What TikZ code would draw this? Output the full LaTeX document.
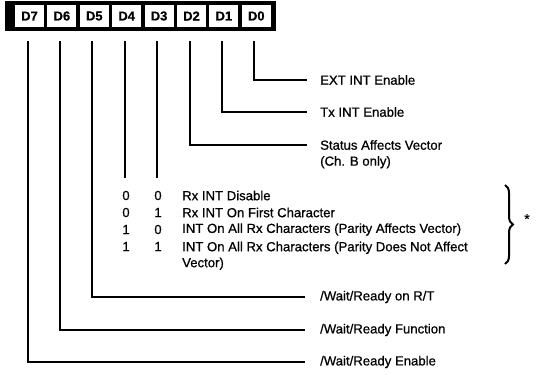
\documentclass[tikz,border=0pt]{standalone}
\usepackage{fontspec}
\setmainfont{Liberation Sans}[FakeBold=0.7]
\newfontfamily\labelfont{Liberation Sans}[FakeBold=0.7]
\usetikzlibrary{decorations.pathreplacing}
\begin{document}
\begin{tikzpicture}[x=1bp,y=-1bp,
  cell/.style={fill=white,minimum width=29bp,minimum height=22bp,inner sep=0pt,font=\fontsize{13}{14}\selectfont\bfseries},
  wire/.style={line width=2bp,line cap=butt},
  lbl/.style={anchor=west,inner sep=0pt,font=\labelfont\fontsize{13.2}{16}\selectfont\addfontfeature{FakeBold=0.7}},
  lbl2/.style={anchor=north west,inner sep=0pt,align=left,font=\labelfont\fontsize{13.2}{16}\selectfont\addfontfeature{FakeBold=0.7}},
  num/.style={anchor=center,inner sep=0pt,font=\labelfont\fontsize{13.2}{16}\selectfont\addfontfeature{FakeBold=0.7}}]
\useasboundingbox (0,0) rectangle (539,374);
% register frame
\node[fill=black,minimum width=270bp,minimum height=30bp,inner sep=0pt] (reg) at (140.5,16) {};
\foreach \n [count=\i from 0] in {7,6,5,4,3,2,1,0}
  \node[cell] (D\n) at (29.5+32.4*\i,16) {D\n};
% end points
\coordinate (e0) at (307,80);
\coordinate (e1) at (307,112);
\coordinate (e2) at (307,145);
\coordinate (e3) at (157.1,178);
\coordinate (e4) at (124.7,178);
\coordinate (e5) at (305,297);
\coordinate (e6) at (305,330);
\coordinate (e7) at (305,362);
% wires
\foreach \n in {0,1,2,5,6,7}
  \draw[wire] ([xshift=-2bp,yshift=-14bp]D\n.south) |- (e\n);
\draw[wire] ([yshift=-14bp]e3 |- D3.south) -- (e3);
\draw[wire] ([yshift=-14bp]e4 |- D4.south) -- (e4);
% labels
\node[lbl] (t0) at (320,80) {EXT INT Enable};
\node[lbl] (t1) at (320,112) {Tx INT Enable};
\node[lbl2] (t2) at (320,140) {Status Affects Vector\\(Ch. B only)};
\node[lbl] (t5) at (320,297) {/Wait/Ready on R/T};
\node[lbl] (t6) at (320,330) {/Wait/Ready Function};
\node[lbl] (t7) at (320,362) {/Wait/Ready Enable};
% table
\node[num] (a1) at (126,195.5) {0}; \node[num] (b1) at (158,195.5) {0};
\node[num] (a2) at (126,212.5) {0}; \node[num] (b2) at (158,212.5) {1};
\node[num] (a3) at (126,229.5) {1}; \node[num] (b3) at (158,229.5) {0};
\node[num] (a4) at (126,246.5) {1}; \node[num] (b4) at (158,246.5) {1};
\node[lbl] (r1) at (182,195.5) {Rx INT Disable};
\node[lbl] (r2) at (182,212.5) {Rx INT On First Character};
\node[lbl] (r3) at (182,229.5) {INT On All Rx Characters (Parity Affects Vector)};
\node[lbl2] (r4) at (182,241.5) {INT On All Rx Characters (Parity Does Not Affect\\Vector)};
% brace
\coordinate (bt) at (505,185);
\coordinate (bb) at (505,264);
\draw[line width=2bp,decorate,decoration={brace,amplitude=8bp}] (bt) -- (bb);
\node[num,font=\fontsize{14}{14}\selectfont] (star) at (527,219) {*};
\end{tikzpicture}
\end{document}
